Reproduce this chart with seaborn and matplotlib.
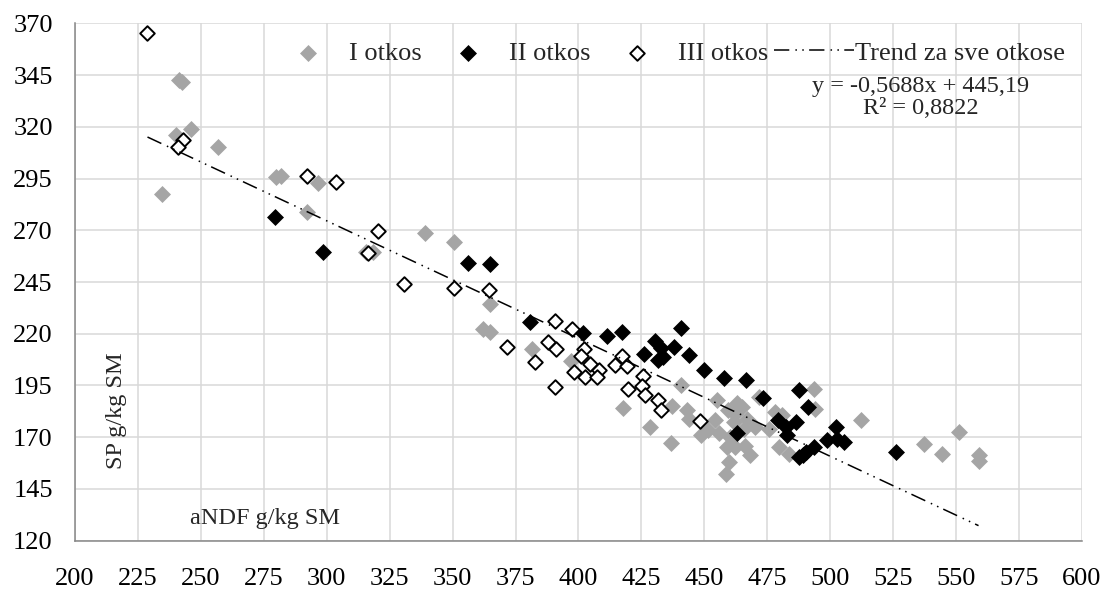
import matplotlib
matplotlib.use("Agg")
import matplotlib.pyplot as plt
import seaborn as sns
import pandas as pd
import numpy as np

# I otkos (sivi)
x_prvi = [241.5, 242.5, 240.2, 246.1, 256.7, 234.5, 279.7, 281.7, 296.5, 292.0,
          315.5, 318.2, 339.0, 350.4, 365.0, 362.0, 365.0, 381.5, 397.2, 417.8,
          428.4, 436.7, 437.0, 440.8, 443.0, 444.0, 448.7, 451.6, 455.0, 454.3,
          459.4, 463.0, 465.0, 459.0, 459.6, 458.6, 462.3, 466.3, 468.3, 461.6,
          465.6, 470.3, 471.6, 478.2, 480.9, 479.5, 483.5, 493.5, 494.1, 512.3,
          537.3, 544.3, 551.3, 558.9, 558.9, 475.5, 456.0, 460.0, 467.0, 462.0]
y_prvi = [342.5, 341.5, 316.0, 318.9, 310.3, 287.4, 295.5, 296.2, 292.6, 278.9,
          259.6, 259.6, 268.5, 264.4, 234.3, 222.5, 220.9, 212.4, 206.7, 184.3,
          175.0, 167.0, 185.0, 195.0, 183.0, 179.0, 171.0, 173.3, 188.0, 178.5,
          183.0, 186.5, 184.6, 165.3, 158.0, 152.4, 165.3, 166.0, 161.2, 177.3,
          174.2, 175.0, 189.4, 182.2, 180.6, 165.3, 162.1, 193.5, 183.8, 178.5,
          166.6, 162.0, 172.5, 161.2, 158.5, 174.2, 172.0, 170.0, 179.0, 181.0]

# II otkos (crni)
x_drugi = [279.4, 298.7, 356.3, 365.0, 380.6, 401.9, 411.2, 417.4, 440.6, 430.4,
           432.8, 431.7, 426.1, 438.1, 444.0, 450.0, 457.9, 466.5, 473.2, 463.0,
           487.5, 491.1, 479.3, 482.5, 486.2, 482.9, 487.5, 490.2, 493.5, 502.1,
           502.8, 498.8, 505.4, 526.0, 433.5, 489.0]
y_drugi = [276.5, 259.6, 254.0, 253.5, 225.7, 220.4, 218.8, 220.9, 223.0, 216.5,
           213.3, 207.2, 210.4, 213.6, 209.6, 202.4, 198.8, 197.5, 189.1, 172.0,
           193.0, 184.6, 178.5, 175.0, 177.3, 171.0, 160.4, 162.8, 165.3, 175.0,
           169.3, 168.8, 167.7, 162.8, 209.0, 161.5]

# III otkos (prazni)
x_treci = [228.8, 242.9, 240.8, 292.0, 303.6, 320.2, 316.5, 330.8, 350.4, 364.3,
           371.5, 382.6, 390.5, 390.6, 387.9, 391.0, 397.3, 398.4, 402.3, 401.1,
           404.5, 402.5, 408.1, 407.4, 417.4, 414.6, 419.3, 419.8, 425.7, 425.3,
           426.6, 431.5, 432.8, 448.4]
y_treci = [365.2, 313.6, 310.3, 296.2, 293.4, 269.6, 258.8, 243.9, 241.9, 241.2,
           213.6, 206.3, 226.2, 194.3, 216.0, 212.8, 222.5, 201.3, 212.8, 209.3,
           205.5, 199.1, 202.4, 198.9, 209.1, 204.8, 204.5, 193.5, 199.5, 194.6,
           190.3, 188.2, 183.0, 177.8]

# trend za sve otkose (iz jednadzbe na grafikonu)
nagib = -0.5688
odsjecak = 445.19
r2 = 0.8822

x_ticks = list(range(200, 601, 25))
y_ticks = list(range(120, 371, 25))

df = pd.concat([
    pd.DataFrame({"aNDF": x_prvi, "SP": y_prvi, "otkos": "I otkos"}),
    pd.DataFrame({"aNDF": x_drugi, "SP": y_drugi, "otkos": "II otkos"}),
    pd.DataFrame({"aNDF": x_treci, "SP": y_treci, "otkos": "III otkos"}),
], ignore_index=True)

x_trend = np.array([df["aNDF"].min(), df["aNDF"].max()])
trend = pd.DataFrame({"aNDF": x_trend, "SP": nagib * x_trend + odsjecak})

sns.set_style("white")
plt.rcParams["font.family"] = ["Liberation Serif", "DejaVu Serif"]

siva_os = "#868686"
fs = 19

fig = plt.figure(figsize=(11.06, 5.94), dpi=100)
ax = fig.add_axes([0.0678, 0.0897, 0.9105, 0.8711])

sns.scatterplot(data=df[df["otkos"] == "I otkos"], x="aNDF", y="SP", marker="D",
                color="#a5a5a5", s=75, linewidth=0, ax=ax, label="I otkos", zorder=3)
sns.scatterplot(data=df[df["otkos"] == "II otkos"], x="aNDF", y="SP", marker="D",
                color="black", s=75, linewidth=0, ax=ax, label="II otkos", zorder=4)
sns.scatterplot(data=df[df["otkos"] == "III otkos"], x="aNDF", y="SP", marker="D",
                facecolor="white", edgecolor="black", s=55, linewidth=1.4, ax=ax,
                label="III otkos", zorder=5)
sns.lineplot(data=trend, x="aNDF", y="SP", color="black", lw=1.1,
             linestyle=(0, (10, 4, 1, 3.5, 1, 3.5)), ax=ax,
             label="Trend za sve otkose", zorder=6)

ax.set_xlim(200, 600)
ax.set_ylim(120, 370)
ax.set_xticks(x_ticks)
ax.set_yticks(y_ticks)
ax.grid(True, color="#d9d9d9", lw=1.1, zorder=0)
ax.set_axisbelow(True)
for s in ["top", "right"]:
    ax.spines[s].set_visible(False)
for s in ["left", "bottom"]:
    ax.spines[s].set_color(siva_os)
    ax.spines[s].set_linewidth(1.1)
ax.tick_params(axis="both", colors=siva_os, length=6, width=1.1, labelsize=fs,
               labelcolor="black", direction="out")
ax.tick_params(axis="x", pad=14)
ax.tick_params(axis="y", pad=10)
ax.set_xlabel("")
ax.set_ylabel("")

ax.text(0.041, 0.252, "SP g/kg SM", rotation=90, transform=ax.transAxes,
        ha="center", va="center", fontsize=17.5)
ax.text(0.189, 0.043, "aNDF g/kg SM", transform=ax.transAxes,
        ha="center", va="center", fontsize=17.5)
ax.text(0.840, 0.877, "y = -0,5688x + 445,19", transform=ax.transAxes,
        ha="center", va="center", fontsize=17.5)
ax.text(0.840, 0.836, "R² = 0,8822", transform=ax.transAxes,
        ha="center", va="center", fontsize=17.5)

ax.legend(loc="center right", bbox_to_anchor=(0.983, 0.9426), ncol=4, frameon=False,
          fontsize=fs, handlelength=3, handletextpad=0.05, columnspacing=0.25,
          borderaxespad=0, borderpad=0)

fig.savefig("out.png", dpi=100)
